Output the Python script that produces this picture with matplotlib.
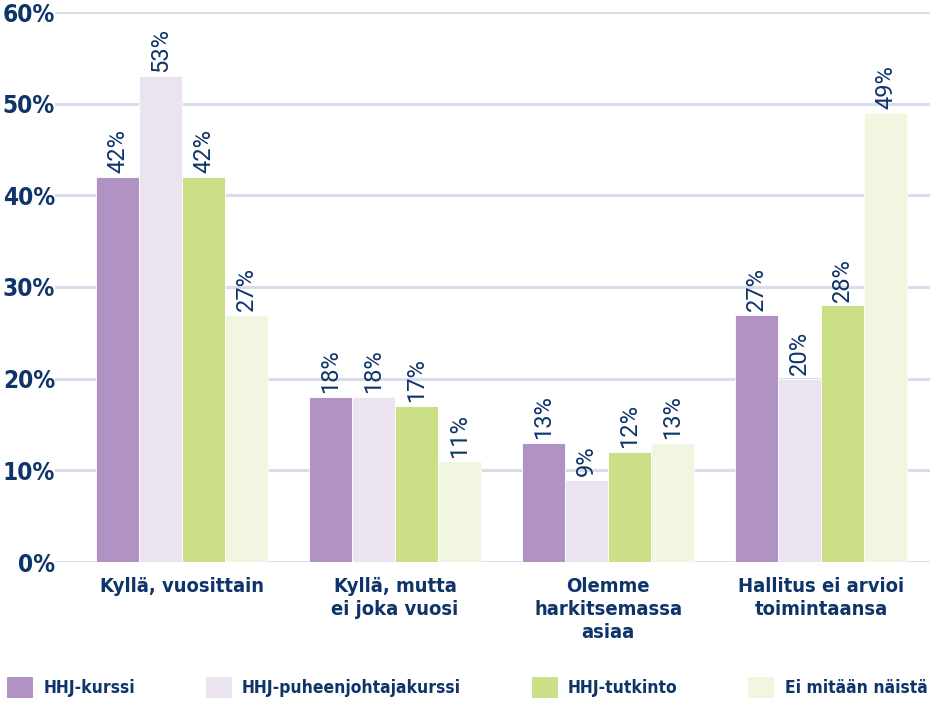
import numpy as np
import matplotlib.pyplot as plt
from matplotlib.patches import Patch
from matplotlib.font_manager import FontProperties

categories = ["Kyllä, vuosittain", "Kyllä, mutta\nei joka vuosi",
              "Olemme\nharkitsemassa\nasiaa", "Hallitus ei arvioi\ntoimintaansa"]
series = ["HHJ-kurssi", "HHJ-puheenjohtajakurssi", "HHJ-tutkinto", "Ei mitään näistä"]
hhj_kurssi = [42, 18, 13, 27]
hhj_pj = [53, 18, 9, 20]
hhj_tutkinto = [42, 17, 12, 28]
ei_mitaan = [27, 11, 13, 49]
yticks = [0, 10, 20, 30, 40, 50, 60]

colors = ["#b193c3", "#ebe3f0", "#cadf86", "#f1f6e1"]
navy = "#0f3469"
grid = "#d9dcea"


def narrow(size, weight="bold"):
    return FontProperties(family="DejaVu Sans", stretch="condensed",
                          weight=weight, size=size)


values = [hhj_kurssi, hhj_pj, hhj_tutkinto, ei_mitaan]

fig = plt.figure(figsize=(9.39, 7.05), dpi=100)
ax = fig.add_axes([55 / 939, 143 / 705, 875 / 939, 550 / 705])

x = np.arange(len(categories))
w = 0.202
for i, (vals, col, name) in enumerate(zip(values, colors, series)):
    pos = x + (i - 1.5) * w
    bars = ax.bar(pos, vals, w, color=col, edgecolor="white", linewidth=0.6,
                  label=name, zorder=3)
    for b, v in zip(bars, vals):
        ax.text(b.get_x() + b.get_width() / 2, v + 0.4, f"{v}%",
                rotation=90, ha="center", va="bottom", color=navy,
                fontsize=17, family="Roboto", zorder=4)

ax.set_xlim(-0.596, 3.51)
ax.set_ylim(0, 60)
ax.set_yticks(yticks)
ax.set_yticklabels([f"{t}%" for t in yticks], fontproperties=narrow(17.5),
                   color=navy)
ax.yaxis.grid(True, color=grid, linewidth=2.2, zorder=0)
ax.set_axisbelow(True)
ax.tick_params(axis="y", length=0, pad=0)
ax.tick_params(axis="x", length=0, pad=11)
ax.set_xticks(x)
ax.set_xticklabels(categories, fontproperties=narrow(14.5), color=navy,
                   linespacing=1.25)
for s in ax.spines.values():
    s.set_visible(False)

handles = [Patch(facecolor=c, edgecolor="none") for c in colors]
leg = fig.legend(handles, series, loc="lower left", ncol=4, mode="expand",
                 bbox_to_anchor=(0.0, 0.0, 0.995, 0.038), frameon=False,
                 handlelength=1.5, handleheight=1.5, handletextpad=0.6,
                 borderaxespad=0, prop=narrow(12.5))
for t in leg.get_texts():
    t.set_color(navy)

fig.savefig("out.png", dpi=100)
